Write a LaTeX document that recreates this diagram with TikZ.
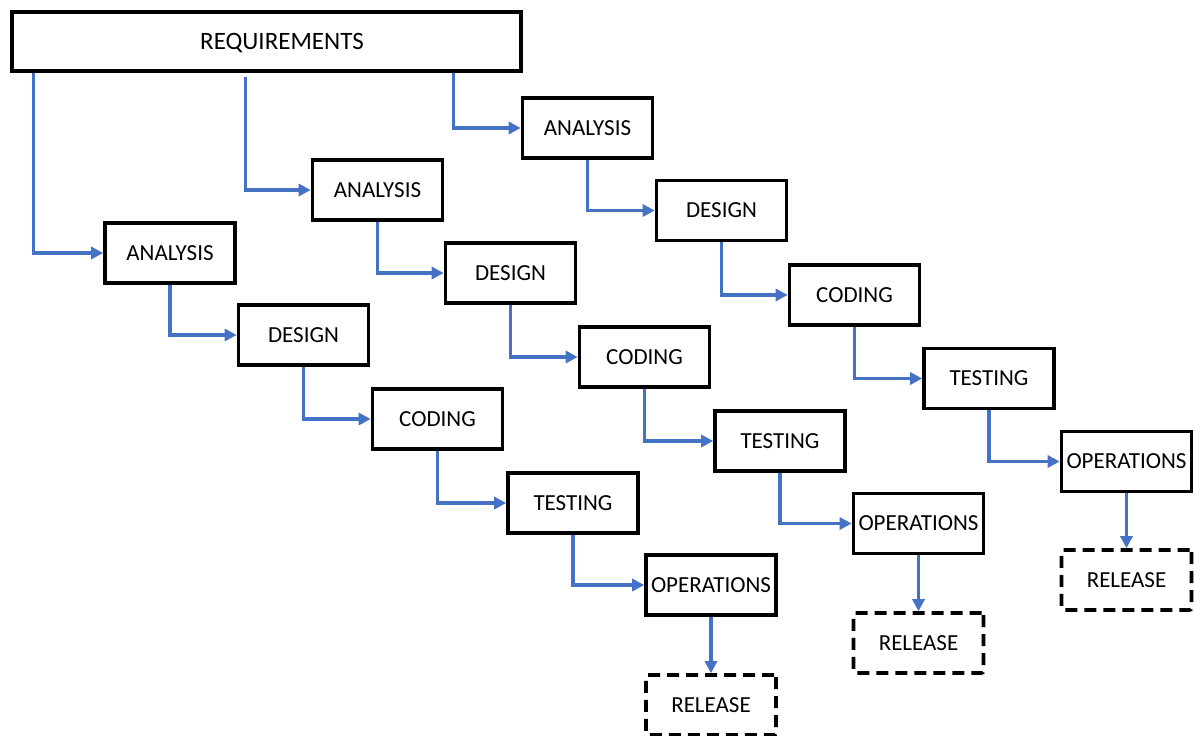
\documentclass[tikz,border=0pt]{standalone}
\usepackage{fontspec}
\setmainfont{Carlito}
\usetikzlibrary{arrows.meta}
\definecolor{flowblue}{HTML}{4472C4}
\tikzset{
  stage/.style={draw=black, line width=3.6pt, minimum width=130pt, minimum height=60pt,
    inner sep=0pt, font=\fontsize{23}{28}\selectfont, fill=white},
  release/.style={stage, dash pattern=on 12pt off 7pt, rounded corners=2pt},
  conn/.style={draw=flowblue, line width=3.2pt, -{Triangle[length=12pt,width=12pt]}}
}
\begin{document}
\begin{tikzpicture}[x=1pt,y=-1pt]
\useasboundingbox (0,0) rectangle (1194,736);
\node[stage, minimum width=509pt, minimum height=59pt] (req) at (266.5,41.5) {};
\node[font=\fontsize{25}{30}\selectfont, inner sep=0pt] (reqt) at (282,43) {REQUIREMENTS};

% first cycle
\node[stage] (a1) at (170,253) {ANALYSIS};
\node[stage] (d1) at (303.5,335) {DESIGN};
\node[stage] (c1) at (437.5,419) {CODING};
\node[stage] (t1) at (573,503) {TESTING};
\node[stage] (o1) at (711,585) {OPERATIONS};
\node[release] (r1) at (711,705) {RELEASE};

% second cycle
\node[stage] (a2) at (377.5,190) {ANALYSIS};
\node[stage] (d2) at (510.5,273) {DESIGN};
\node[stage] (c2) at (644.5,357) {CODING};
\node[stage] (t2) at (780,441) {TESTING};
\node[stage] (o2) at (918.5,523.5) {OPERATIONS};
\node[release] (r2) at (918.5,643) {RELEASE};

% third cycle
\node[stage] (a3) at (587.5,128) {ANALYSIS};
\node[stage] (d3) at (721.5,210.5) {DESIGN};
\node[stage] (c3) at (854.5,295) {CODING};
\node[stage] (t3) at (989,378.5) {TESTING};
\node[stage] (o3) at (1126.5,461.5) {OPERATIONS};
\node[release] (r3) at (1126.5,580) {RELEASE};

% requirements feed each cycle
\draw[conn] ([xshift=23pt]req.south west) |- (a1.west);
\draw[conn] ([xshift=235pt,yshift=-4pt]req.south west) |- (a2.west);
\draw[conn] ([xshift=443pt]req.south west) |- (a3.west);

% steps within each cycle
\foreach \c in {1,2,3}{
  \draw[conn] (a\c.south) |- (d\c.west);
  \draw[conn] (d\c.south) |- (c\c.west);
  \draw[conn] (c\c.south) |- (t\c.west);
  \draw[conn] (t\c.south) |- (o\c.west);
  \draw[conn] (o\c.south) -- (r\c.north);
}
\end{tikzpicture}
\end{document}
